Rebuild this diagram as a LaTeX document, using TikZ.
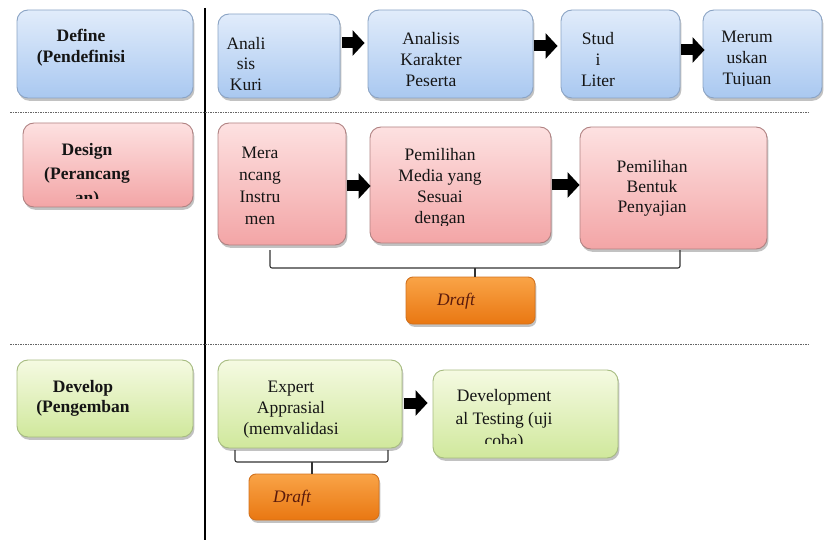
\documentclass[tikz,border=0pt]{standalone}
\usepackage{fontspec}
\setmainfont{Liberation Serif}
\usetikzlibrary{shadows,arrows.meta,calc}
\definecolor{bluetop}{HTML}{E1ECFB}
\definecolor{bluebot}{HTML}{A9C8F0}
\definecolor{blueline}{HTML}{8AA3C4}
\definecolor{pinktop}{HTML}{FDE1E1}
\definecolor{pinkbot}{HTML}{F3A5A6}
\definecolor{pinkline}{HTML}{B08282}
\definecolor{greentop}{HTML}{F5FAE2}
\definecolor{greenbot}{HTML}{D0E89C}
\definecolor{greenline}{HTML}{A6BB80}
\definecolor{orangetop}{HTML}{F9A447}
\definecolor{orangebot}{HTML}{E97712}
\definecolor{orangeline}{HTML}{D2721E}
\definecolor{txtcol}{HTML}{151515}
\definecolor{drafttxt}{HTML}{5A1A0C}
\begin{document}
\begin{tikzpicture}[x=1pt,y=-1pt,
  box/.style={draw, rounded corners=11pt, line width=0.9pt, inner sep=0pt,
    drop shadow={shadow xshift=1.4pt, shadow yshift=-2.8pt, opacity=0.4, fill=black!60}},
  bluebox/.style={box, draw=blueline, top color=bluetop, bottom color=bluebot},
  pinkbox/.style={box, draw=pinkline, top color=pinktop, bottom color=pinkbot},
  greenbox/.style={box, draw=greenline, top color=greentop, bottom color=greenbot},
  orangebox/.style={box, rounded corners=7pt, draw=orangeline, top color=orangetop, bottom color=orangebot},
  txt/.style={align=center, inner sep=0pt, text=txtcol, font=\fontsize{17.5}{#1}\selectfont},
  lbl/.style={align=center, inner sep=0pt, text=txtcol, font=\fontsize{17.5}{#1}\selectfont\bfseries},
  drafttext/.style={inner sep=0pt, text=drafttxt, font=\fontsize{17.5}{21}\selectfont\itshape},
  barrow/.style={line width=11pt, black, -{Triangle[length=12pt,width=25pt]}},
  brack/.style={line width=1.1pt, draw=black!80, rounded corners=2pt},
  sep/.style={line width=0.9pt, draw=black!60, dash pattern=on 1.6pt off 0.9pt}
]
\useasboundingbox (0,0) rectangle (827,540);

% separators
\coordinate (vt) at (205,8);
\coordinate (vb) at (205,540);
\draw[line width=2pt] (vt) -- (vb);
\coordinate (s1l) at (10,112);
\coordinate (s1r) at (808,112);
\coordinate (s2l) at (10,344);
\coordinate (s2r) at (808,344);
\draw[sep] (s1l) -- (s1r);
\draw[sep] (s2l) -- (s2r);

% left labels
\node[bluebox, minimum width=176pt, minimum height=88pt] (def) at (105,54) {};
\node[lbl=21] (tdef) at (81,48) {Define\\(Pendefinisi};

\node[pinkbox, minimum width=170pt, minimum height=84pt] (des) at (108,165) {};
\begin{scope}
\clip (23,123) rectangle (193,199);
\node[lbl=24] (tdes) at (87,175.5) {Design\\(Perancang\\an)};
\end{scope}

\node[greenbox, minimum width=176pt, minimum height=77pt] (dev) at (105,398.5) {};
\node[lbl=20] (tdev) at (83,398.5) {Develop\\(Pengemban};

% row 1
\node[bluebox, minimum width=122pt, minimum height=84pt] (k1) at (279,56) {};
\node[bluebox, minimum width=165pt, minimum height=88pt] (k2) at (450.5,54) {};
\node[bluebox, minimum width=119pt, minimum height=88pt] (k3) at (620.5,54) {};
\node[bluebox, minimum width=119pt, minimum height=88pt] (k4) at (762.5,54) {};
\begin{scope}
\clip (218,14) rectangle (340,90);
\node[txt=20.5] (tk1) at (246,64) {Anali\\sis\\Kuri};
\end{scope}
\begin{scope}
\clip (368,10) rectangle (533,86);
\node[txt=21] (tk2) at (431,60) {Analisis\\Karakter\\Peserta};
\end{scope}
\begin{scope}
\clip (561,10) rectangle (680,86);
\node[txt=21] (tk3) at (598,60) {Stud\\i\\Liter};
\end{scope}
\begin{scope}
\clip (703,10) rectangle (822,86);
\node[txt=21] (tk4) at (747,60) {Merum\\uskan\\Tujuan};
\end{scope}

\coordinate (a1) at ([xshift=2pt,yshift=13pt]k1.east);
\draw[barrow, shorten >=3pt] (a1) -- (a1 -| k2.west);
\coordinate (a2) at ([xshift=1pt,yshift=8pt]k2.east);
\draw[barrow, shorten >=3pt] (a2) -- (a2 -| k3.west);
\coordinate (a3) at ([xshift=1pt,yshift=4pt]k3.east);
\draw[barrow, shorten >=-2pt] (a3) -- (a3 -| k4.west);

% row 2
\node[pinkbox, minimum width=128pt, minimum height=122pt] (m1) at (282,184) {};
\node[pinkbox, minimum width=181pt, minimum height=116pt] (m2) at (460.5,185) {};
\node[pinkbox, minimum width=187pt, minimum height=122pt] (m3) at (673.5,188) {};
\node[txt=22] (tm1) at (260,185.5) {Mera\\ncang\\Instru\\men};
\begin{scope}
\clip (370,127) rectangle (551,226);
\node[txt=21] (tm2) at (440,187.5) {Pemilihan\\Media yang\\Sesuai\\dengan};
\end{scope}
\node[txt=20] (tm3) at (652,188.5) {Pemilihan\\Bentuk\\Penyajian};

\coordinate (a4) at ([xshift=1pt,yshift=-2pt]m1.east);
\draw[barrow, shorten >=-1pt] (a4) -- (a4 -| m2.west);
\coordinate (a5) at ([xshift=1pt]m2.east);
\draw[barrow] (a5) -- (a5 -| m3.west);

\node[orangebox, minimum width=129pt, minimum height=47pt] (d1) at (470.5,300.5) {};
\node[drafttext] (td1) at (456,301) {Draft};

\coordinate (b1l) at (270,250);
\coordinate (b1r) at (680,250);
\coordinate (b1m) at (475,268);
\draw[brack] (b1l) |- (b1m) -| (b1r);
\draw[brack] (b1m) -- (b1m |- d1.north);

% row 3
\node[greenbox, minimum width=184pt, minimum height=88pt] (e1) at (310,404) {};
\node[greenbox, minimum width=185pt, minimum height=88pt] (e2) at (525.5,414) {};
\begin{scope}
\clip (218,360) rectangle (402,437);
\node[txt=21] (te1) at (291,409.5) {Expert\\Apprasial\\(memvalidasi};
\end{scope}
\begin{scope}
\clip (433,370) rectangle (618,443);
\node[txt=22.5] (te2) at (504,420) {Development\\al Testing (uji\\coba)};
\end{scope}

\coordinate (a6) at ([xshift=2pt,yshift=1pt]e1.east);
\draw[barrow, shorten >=5pt] (a6) -- (a6 -| e2.west);

\node[orangebox, minimum width=130pt, minimum height=46pt] (d2) at (314,497) {};
\node[drafttext] (td2) at (292,498) {Draft};

\coordinate (b2l) at (235,450);
\coordinate (b2r) at (388,450);
\coordinate (b2m) at (312,462);
\draw[brack] (b2l) |- (b2m) -| (b2r);
\draw[brack] (b2m) -- (b2m |- d2.north);
\end{tikzpicture}
\end{document}
